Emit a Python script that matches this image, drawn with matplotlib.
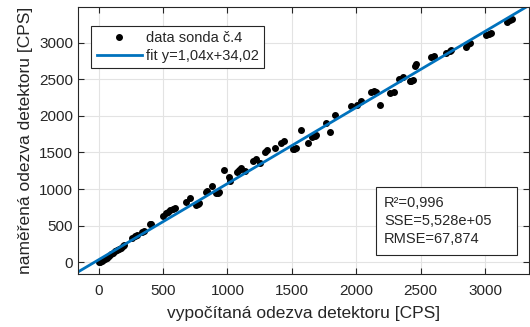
import numpy as np
import matplotlib
matplotlib.use("Agg")
import matplotlib.pyplot as plt
from matplotlib.patches import Rectangle

plt.rcParams['font.family'] = ['Liberation Sans', 'DejaVu Sans']

# odečtené body: vypočítaná vs. naměřená odezva [CPS]
calc = [5, 15, 25, 35, 50, 65, 80, 100, 115, 130, 145, 160, 175, 190, 200,
        256, 282, 300, 334, 350, 399, 410, 502, 525, 541, 551, 580, 590,
        675, 712, 758, 770, 779, 831, 845, 882, 913, 925, 934, 970, 1012,
        1017, 1074, 1090, 1108, 1134, 1198, 1219, 1250, 1289, 1307, 1366,
        1418, 1436, 1507, 1520, 1535, 1570, 1625, 1659, 1677, 1690, 1765,
        1793, 1836, 1960, 2006, 2040, 2117, 2135, 2156, 2182, 2265, 2290,
        2335, 2363, 2415, 2427, 2441, 2453, 2466, 2583, 2601, 2700, 2725,
        2738, 2849, 2867, 2880, 3010, 3030, 3049, 3166, 3190, 3211]
meas = [0, 10, 15, 30, 50, 60, 80, 110, 125, 150, 165, 180, 195, 220, 240,
        336, 363, 375, 410, 425, 519, 525, 637, 678, 691, 714, 728, 746,
        828, 874, 783, 795, 806, 964, 975, 1042, 942, 952, 964, 1261, 1169,
        1115, 1238, 1260, 1284, 1251, 1384, 1415, 1361, 1511, 1534, 1557,
        1626, 1657, 1548, 1552, 1557, 1802, 1634, 1712, 1725, 1739, 1903,
        1782, 2017, 2139, 2149, 2200, 2320, 2344, 2322, 2152, 2309, 2331,
        2505, 2536, 2470, 2482, 2490, 2686, 2705, 2800, 2818, 2852, 2890,
        2900, 2940, 2975, 2990, 3100, 3115, 3130, 3287, 3305, 3324]

fit_a = 1.04
fit_b = 34.02
stats = ["R²=0,996", "SSE=5,528e+05", "RMSE=67,874"]

xlim = (-160, 3340)
ylim = (-160, 3490)
dark = '#262626'

fig = plt.figure(figsize=(5.3, 3.27), dpi=100)
ax = fig.add_axes([0.147, 0.162, 0.851, 0.8175])

ax.plot(calc, meas, 'o', color='black', markersize=4, label='data sonda č.4')
xf = np.array(xlim)
ax.plot(xf, fit_a * xf + fit_b, color='#0072BD', linewidth=2, label='fit y=1,04x+34,02')

ax.set_xlim(xlim)
ax.set_ylim(ylim)
ax.set_xticks(np.arange(0, 3001, 500))
ax.set_yticks(np.arange(0, 3001, 500))
ax.grid(True, color='#e3e3e3', linewidth=0.8)
ax.set_axisbelow(True)
ax.tick_params(direction='in', top=True, right=True, length=4,
               labelsize=11, colors=dark, width=0.8)
ax.tick_params(axis='x', pad=7)
for s in ax.spines.values():
    s.set_color(dark)
    s.set_linewidth(0.8)

ax.set_xlabel('vypočítaná odezva detektoru [CPS]', fontsize=12.5, color=dark, labelpad=6)
ax.set_ylabel('naměřená odezva detektoru [CPS]', fontsize=12.5, color=dark, labelpad=4)

leg = ax.legend(loc='upper left', bbox_to_anchor=(0.03, 0.929), borderaxespad=0,
                fontsize=10.5, fancybox=False, framealpha=1, edgecolor=dark,
                handlelength=3.1, handletextpad=0.3, borderpad=0.35, labelspacing=0.3)
leg.get_frame().set_linewidth(0.8)
for t in leg.get_texts():
    t.set_color(dark)

ax.add_patch(Rectangle((0.66, 0.071), 0.314, 0.2555, transform=ax.transAxes,
                       facecolor='white', edgecolor=dark, linewidth=0.8, zorder=5))
ax.text(0.679, 0.199, "\n".join(stats), transform=ax.transAxes, ha='left', va='center',
        fontsize=10.5, color=dark, linespacing=1.38, zorder=6)

fig.savefig('out.png', dpi=100)
